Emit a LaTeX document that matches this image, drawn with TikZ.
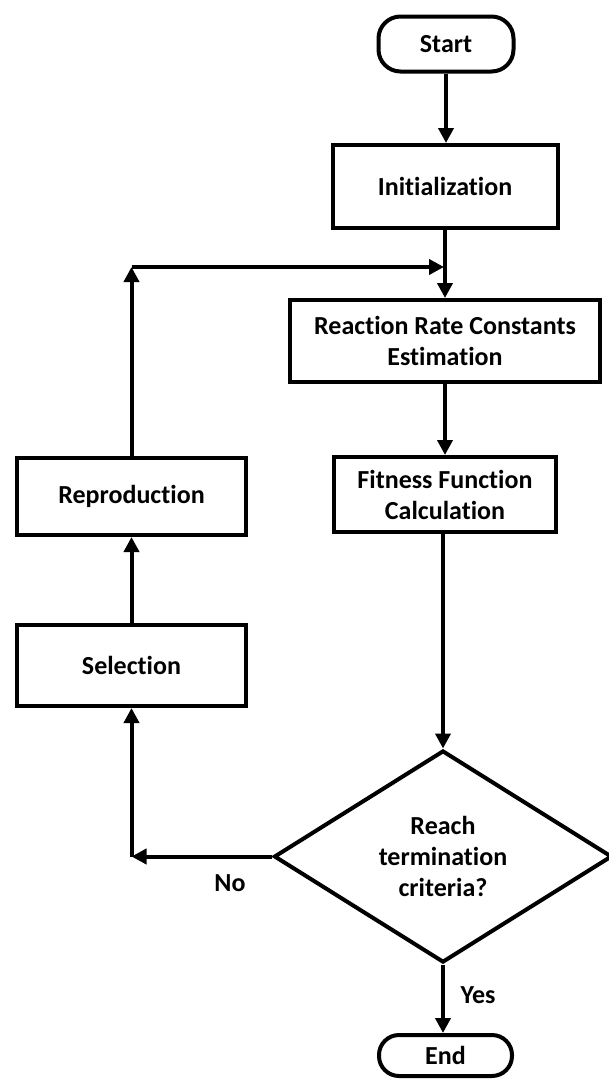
\documentclass[tikz,border=0pt]{standalone}
\usepackage{fontspec}
\setmainfont{Carlito}[Ligatures={CommonOff,ContextualOff}]
\usetikzlibrary{arrows.meta,shapes.geometric}
\begin{document}
\begin{tikzpicture}[x=1pt,y=-1pt,
  every node/.style={font=\fontsize{26}{31}\selectfont\bfseries},
  box/.style={draw, line width=4pt, rectangle, inner sep=0pt, align=center},
  term/.style={draw, line width=4pt, rectangle, rounded corners=22pt, inner sep=0pt},
  dec/.style={draw, line width=4pt, diamond, aspect=1.57, inner sep=0pt, align=center},
  conn/.style={line width=4pt, -{Triangle[width=15pt,length=15pt]}},
  lbl/.style={inner sep=0pt}
]
\useasboundingbox (0,0) rectangle (609,1080);

\node[term, minimum width=135pt, minimum height=55pt] (start) at (446,44) {Start};
\node[box, minimum width=225pt, minimum height=83pt] (init) at (445,186.5) {Initialization};
\node[box, minimum width=310pt, minimum height=82pt] (rrc) at (445,341) {Reaction Rate Constants\\Estimation};
\node[box, minimum width=222pt, minimum height=75pt] (fit) at (445,494.5) {Fitness Function\\Calculation};
\node[dec, minimum width=338pt, minimum height=212pt] (dia) at (443,856.5) {Reach\\termination\\criteria?};
\node[term, minimum width=133pt, minimum height=41pt, rounded corners=20pt] (end) at (445.5,1055.5) {End};
\node[box, minimum width=229pt, minimum height=77pt] (repro) at (131.5,496.5) {Reproduction};
\node[box, minimum width=229pt, minimum height=81pt] (sel) at (131.5,665.5) {Selection};

\coordinate (c1) at (131.5,856.5);
\coordinate (c2) at (131.5,267);
\coordinate (j) at (444,267);

\node[lbl] (yes) at (478,995) {Yes};
\node[lbl] (no) at (230,883) {No};

\draw[conn] (start.south) -- (start.south |- init.north);
\draw[conn] (init.south) -- (init.south |- rrc.north);
\draw[conn] (rrc.south) -- (rrc.south |- fit.north);
\draw[conn] (dia.north |- fit.south) -- (dia.north);
\draw[conn] (dia.south) -- (dia.south |- end.north);
\draw[conn] (dia.west) -- (c1);
\draw[conn] (c1) -- (sel.south);
\draw[conn] (sel.north) -- (repro.south);
\draw[conn] (repro.north) -- (c2);
\draw[conn] (c2) -- (j);
\end{tikzpicture}
\end{document}
